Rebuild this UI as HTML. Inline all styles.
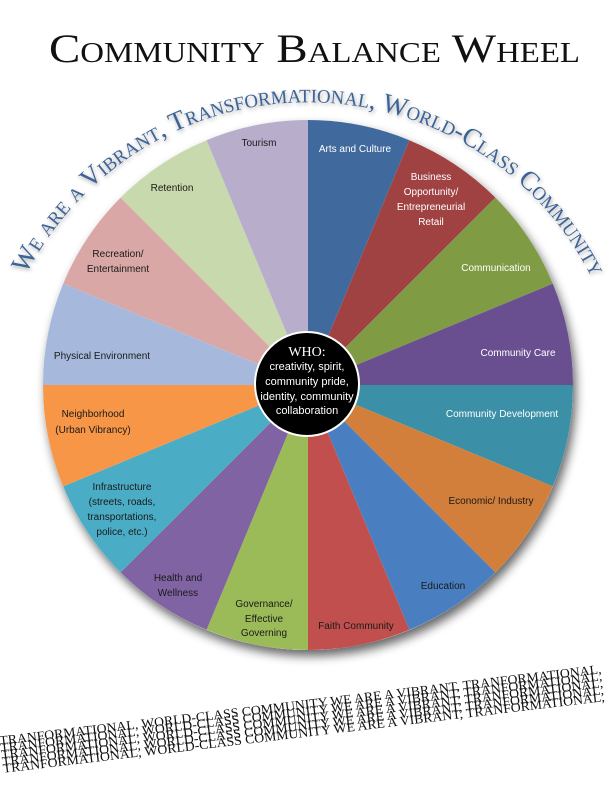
<!DOCTYPE html>
<html><head><meta charset="utf-8"><style>
html,body{margin:0;padding:0;background:#fff;}
svg{display:block;}
.l{font-family:"Liberation Sans",sans-serif;font-size:10px;text-anchor:middle;}
.w{fill:#fff;}
.b{fill:#1a1a1a;}
</style></head><body>
<svg width="612" height="792" viewBox="0 0 612 792" xmlns="http://www.w3.org/2000/svg">
<defs>
<filter id="sh" x="-20%" y="-20%" width="140%" height="140%">
<feGaussianBlur in="SourceAlpha" stdDeviation="5"/>
<feOffset dx="3" dy="6" result="o"/>
<feComponentTransfer><feFuncA type="linear" slope="0.6"/></feComponentTransfer>
<feMerge><feMergeNode/><feMergeNode in="SourceGraphic"/></feMerge>
</filter>
<filter id="ts" x="-5%" y="-20%" width="110%" height="140%">
<feGaussianBlur in="SourceAlpha" stdDeviation="2"/>
<feOffset dx="1" dy="2"/>
<feComponentTransfer><feFuncA type="linear" slope="0.35"/></feComponentTransfer>
<feMerge><feMergeNode/><feMergeNode in="SourceGraphic"/></feMerge>
</filter>
<path id="arc" d="M20.8 285.1 A317 317 0 0 1 595.2 285.1"/>
</defs>

<text x="49" y="62" textLength="531" lengthAdjust="spacingAndGlyphs" style="font-family:'Liberation Serif',serif;font-size:40px;font-variant:small-caps;fill:#111;">Community Balance Wheel</text>

<text filter="url(#ts)" style="font-family:'Liberation Serif',serif;font-size:27px;font-variant:small-caps;fill:#3d6496;"><textPath href="#arc" startOffset="12" textLength="698" lengthAdjust="spacingAndGlyphs">We are a Vibrant, Transformational, World-Class Community</textPath></text>

<g filter="url(#sh)">
<circle cx="308" cy="385" r="265" fill="#fff"/>
<path d="M308 385L308 120A265 265 0 0 1 409.4 140.2Z" fill="#3f6a9e"/>
<path d="M308 385L409.4 140.2A265 265 0 0 1 495.4 197.6Z" fill="#a04343"/>
<path d="M308 385L495.4 197.6A265 265 0 0 1 552.8 283.6Z" fill="#7f9c45"/>
<path d="M308 385L552.8 283.6A265 265 0 0 1 573 385Z" fill="#6b5090"/>
<path d="M308 385L573 385A265 265 0 0 1 552.8 486.4Z" fill="#3b8fa6"/>
<path d="M308 385L552.8 486.4A265 265 0 0 1 495.4 572.4Z" fill="#d27f3a"/>
<path d="M308 385L495.4 572.4A265 265 0 0 1 409.4 629.8Z" fill="#4a7fc0"/>
<path d="M308 385L409.4 629.8A265 265 0 0 1 308 650Z" fill="#c0504d"/>
<path d="M308 385L308 650A265 265 0 0 1 206.6 629.8Z" fill="#9bbb59"/>
<path d="M308 385L206.6 629.8A265 265 0 0 1 120.6 572.4Z" fill="#8064a2"/>
<path d="M308 385L120.6 572.4A265 265 0 0 1 63.2 486.4Z" fill="#4bacc6"/>
<path d="M308 385L63.2 486.4A265 265 0 0 1 43 385Z" fill="#f79646"/>
<path d="M308 385L43 385A265 265 0 0 1 63.2 283.6Z" fill="#a6b9dc"/>
<path d="M308 385L63.2 283.6A265 265 0 0 1 120.6 197.6Z" fill="#d9a8a6"/>
<path d="M308 385L120.6 197.6A265 265 0 0 1 206.6 140.2Z" fill="#c8d9ad"/>
<path d="M308 385L206.6 140.2A265 265 0 0 1 308 120Z" fill="#b8aecb"/>
</g>

<circle cx="307" cy="384" r="52" fill="#000" stroke="#fff" stroke-width="2"/>
<text x="307" y="356" style="font-family:'Liberation Serif',serif;font-size:14px;fill:#fff;text-anchor:middle;">WHO:</text>
<g class="l w" style="font-size:11px;">
<text x="307" y="370">creativity, spirit,</text>
<text x="307" y="385">community pride,</text>
<text x="307" y="400">identity, community</text>
<text x="307" y="414">collaboration</text>
</g>

<g class="l w">
<text x="355" y="152">Arts and Culture</text>
<text x="431" y="180">Business</text>
<text x="431" y="195">Opportunity/</text>
<text x="431" y="210">Entrepreneurial</text>
<text x="431" y="225">Retail</text>
<text x="496" y="271">Communication</text>
<text x="518" y="356">Community Care</text>
<text x="502" y="417">Community Development</text>
</g>
<g class="l b">
<text x="259" y="146">Tourism</text>
<text x="172" y="191">Retention</text>
<text x="118" y="257">Recreation/</text>
<text x="118" y="272">Entertainment</text>
<text x="102" y="359">Physical Environment</text>
<text x="93" y="417">Neighborhood</text>
<text x="93" y="433">(Urban Vibrancy)</text>
<text x="122" y="490">Infrastructure</text>
<text x="122" y="505">(streets, roads,</text>
<text x="122" y="520">transportations,</text>
<text x="122" y="535">police, etc.)</text>
<text x="491" y="504">Economic/ Industry</text>
<text x="178" y="581">Health and</text>
<text x="178" y="596">Wellness</text>
<text x="443" y="589">Education</text>
<text x="264" y="607">Governance/</text>
<text x="264" y="622">Effective</text>
<text x="264" y="636">Governing</text>
<text x="356" y="629">Faith Community</text>
</g>

<g transform="rotate(-6.8 0 745)" style="font-family:'Liberation Serif',serif;font-size:13px;fill:#111;">
<text x="0" y="745" textLength="606" lengthAdjust="spacingAndGlyphs">TRANFORMATIONAL, WORLD-CLASS COMMUNITY WE ARE A VIBRANT, TRANFORMATIONAL,</text>
<text x="0" y="752" textLength="606" lengthAdjust="spacingAndGlyphs">TRANFORMATIONAL, WORLD-CLASS COMMUNITY WE ARE A VIBRANT, TRANFORMATIONAL,</text>
<text x="0" y="759" textLength="606" lengthAdjust="spacingAndGlyphs">TRANFORMATIONAL, WORLD-CLASS COMMUNITY WE ARE A VIBRANT, TRANFORMATIONAL,</text>
<text x="0" y="766" textLength="606" lengthAdjust="spacingAndGlyphs">TRANFORMATIONAL, WORLD-CLASS COMMUNITY WE ARE A VIBRANT, TRANFORMATIONAL,</text>
<text x="0" y="773" textLength="606" lengthAdjust="spacingAndGlyphs">TRANFORMATIONAL, WORLD-CLASS COMMUNITY WE ARE A VIBRANT, TRANFORMATIONAL,</text>
</g>
</svg>
</body></html>
